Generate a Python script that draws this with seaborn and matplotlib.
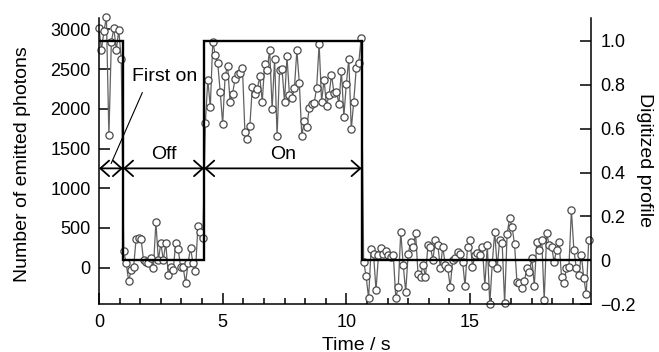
# Photon emission trace with digitized on/off profile

import numpy as np
import seaborn as sns
import matplotlib.pyplot as plt
from matplotlib.ticker import MultipleLocator, FixedLocator, FixedFormatter

# photon counts per 0.1 s bin
first_on = [3010, 2740, 2980, 3150, 1670, 2845, 3010, 2740, 2990, 2620]
off_1 = [206, 55, -168, -29, 13, 361, 370, 361, 97, 76, 55, 118, -8, 572, 97,
         307, 97, 315, -92, 13, -29, 307, 236, 13, 13, -197, 55, 252, 55, -42,
         525, 453, 370]
on_1 = [1826, 2364, 2020, 2846, 2679, 2574, 2217, 1806, 2418, 2540, 2091, 2188,
        2373, 2436, 2456, 2511, 1705, 1617, 1788, 2280, 2188, 2247, 2406, 2091,
        2565, 2490, 2742, 1995, 2625, 1659, 2490, 2500, 2091, 2658,
        2175, 2133, 2259, 2733, 2322, 1659, 1852, 1768, 2007, 2062, 2078, 2259,
        2817, 2091, 2364, 2036, 2175, 2427, 2204, 2217, 2062, 2481, 1902, 2314,
        2625, 1743, 2091, 2511, 2574, 2889]
off_2 = [76, -105, -385, 232, 169, -281, 160, 244, 169, 210, 160, 139, 160, -385,
         -239, 453, 34, -302, 169, 327, 264, 433, -83, -113, 34, -113, 286, 264,
         97, 349, 286, 0, 264, 34, -8, -239, 97, 118, 202, 169, 76, -231, 264,
         349, 13,
         160, 181, 160, 264, -227, 286, -461, 55, 453, 0, 349, 307, -448, 421,
         622, 516, 295, -184, -197, -260, -168, 0, -50, 118, -227, 327, 223, 349,
         -407, 433, 286, 264, 76, 223, 327, -113, -197, -8, 13, 727, 223, -8,
         -92, 160, -126, -335, 349]

counts = np.array(first_on + off_1 + on_1 + off_2)
time = np.arange(len(counts)) * 0.1

switch_times = [0, 0.97, 4.25, 10.65, 19.88]
levels = [1, 0, 1, 0]

# arrow spans and labels
spans = [(0, 0.97, ''), (0.97, 4.25, 'Off'), (4.25, 10.62, 'On')]
arrow_y = 1250

sns.set_style('ticks')
plt.rcParams['font.family'] = ['Liberation Sans', 'DejaVu Sans']
plt.rcParams['text.color'] = 'black'
plt.rcParams['axes.labelcolor'] = 'black'
plt.rcParams['xtick.color'] = 'black'
plt.rcParams['ytick.color'] = 'black'

fig = plt.figure(figsize=(6.59, 3.52), dpi=100)
ax = fig.add_axes([99 / 659, 1 - 304.3 / 352, 491.7 / 659, 286 / 352])

sns.lineplot(x=time, y=counts, ax=ax, color='#606060', lw=0.9, marker='o',
             ms=5.2, mfc='white', mec='#4a4a4a', mew=0.9, clip_on=False)

ax.set_xlim(0, 19.88)
ax.set_ylim(-460, 3138)
ax.set_xlabel('')
ax.set_ylabel('')

ax2 = ax.twinx()
ax2.stairs(levels, switch_times, baseline=None, color='black', lw=1.7)
ax2.set_ylim(-0.2, 1.102)

# ticks
ax.xaxis.set_major_locator(MultipleLocator(5))
ax.xaxis.set_minor_locator(MultipleLocator(5 / 6))
ax.set_yticks([0, 500, 1000, 1500, 2000, 2500, 3000])
ax2.yaxis.set_major_locator(FixedLocator([-0.2, 0, 0.2, 0.4, 0.6, 0.8, 1.0]))
ax2.yaxis.set_major_formatter(FixedFormatter(['\u22120.2', '0', '0.2', '0.4', '0.6', '0.8', '1.0']))

ax.tick_params(axis='both', which='major', direction='in', length=8, width=1.1,
               labelsize=13, color='black', labelcolor='black', pad=6)
ax.tick_params(axis='x', which='minor', direction='in', length=4, width=1.1, color='black')
ax.tick_params(axis='x', which='major', pad=7)
ax2.tick_params(axis='y', direction='in', length=8, width=1.1, labelsize=13,
                color='black', labelcolor='black', pad=7)

for a in (ax, ax2):
    a.spines['top'].set_visible(False)
    for s in ('left', 'right', 'bottom'):
        a.spines[s].set_linewidth(1.1)
        a.spines[s].set_color('black')
ax.spines['right'].set_visible(False)
ax2.spines['left'].set_visible(False)
ax2.spines['bottom'].set_visible(False)

# arrows with labels
for x0, x1, lab in spans:
    ax.annotate('', xy=(x0, arrow_y), xytext=(x1, arrow_y),
                arrowprops=dict(arrowstyle='<->,head_length=0.45,head_width=0.4',
                                color='black', lw=1.3, shrinkA=0, shrinkB=0,
                                mutation_scale=14))
    if lab:
        ax.text((x0 + x1) / 2, 1420, lab, ha='center', va='center', fontsize=14)

ax.annotate('First on', xy=(0.49, 1311), xytext=(2.67, 2400), ha='center', va='center',
            fontsize=14,
            arrowprops=dict(arrowstyle='-', color='black', lw=0.8, relpos=(0.2, 0),
                            shrinkA=3, shrinkB=0))

fig.text(23 / 659, 1 - 164 / 352, 'Number of emitted photons', rotation=90,
         ha='center', va='center', fontsize=14)
fig.text(645 / 659, 1 - 160 / 352, 'Digitized profile', rotation=270,
         ha='center', va='center', fontsize=14)
fig.text(356 / 659, 1 - 345 / 352, 'Time / s', ha='center', va='center', fontsize=14)

fig.savefig('out.png', dpi=100)
